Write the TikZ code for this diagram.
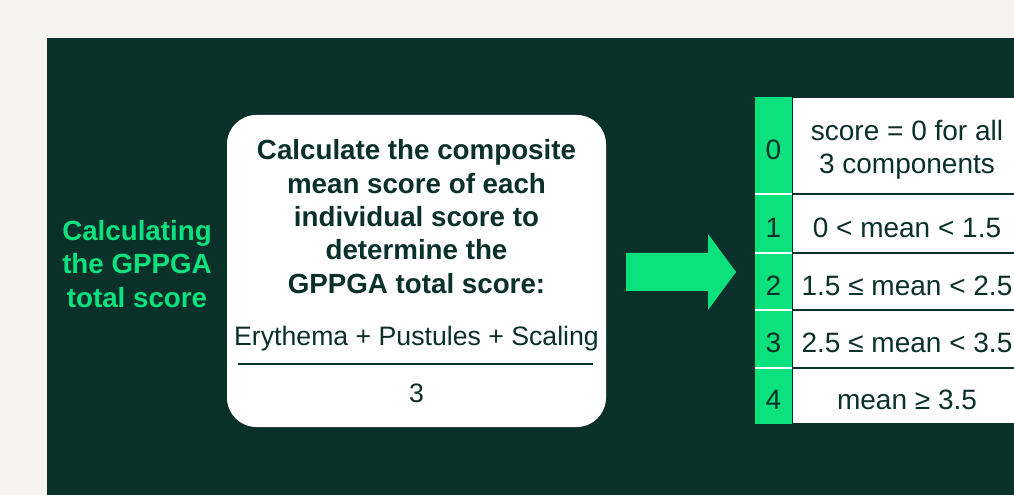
\documentclass[tikz,border=0pt]{standalone}
\usepackage{fontspec}
\setmainfont{Liberation Sans}
\usetikzlibrary{positioning}
\definecolor{panelgreen}{HTML}{0A302A}
\definecolor{brightgreen}{HTML}{0BE27D}
\definecolor{pagegrey}{HTML}{F5F4F2}

\begin{document}
\begin{tikzpicture}[
    x=0.75pt,
    y=-0.75pt,
    plaintext/.style={font=\fontsize{20}{24.5}\selectfont, text=panelgreen},
    tabletext/.style={font=\fontsize{21}{24.5}\selectfont, text=panelgreen, align=center},
    boldtext/.style={font=\fontsize{20.8}{25}\selectfont\bfseries, align=center},
    scorecell/.style={fill=brightgreen, inner sep=0pt, minimum width=27.75pt},
    rangecell/.style={fill=white, draw=panelgreen, line width=1.5pt,
                      inner sep=0pt, minimum width=172.5pt},
    calcbox/.style={fill=white, rounded corners=22pt, minimum width=284.25pt, minimum height=234pt},
  ]

  % === Page and panel ===
  \clip (0,0) rectangle (1014,495);
  \fill[pagegrey] (0,0) rectangle (1014,495);
  \fill[panelgreen] (47,38) rectangle (1014,495);

  % === Title on the left ===
  \node[boldtext, text=brightgreen] (title) at (137,264) {Calculating\\the GPPGA\\total score};

  % === Calculation box ===
  \node[calcbox] (calc) at (416.5,271) {};
  \node[boldtext, text=panelgreen] (steps) at (416.5,216.5)
    {Calculate the composite\\mean score of each\\individual score to\\determine the\\GPPGA total score:};
  \node[plaintext] (numer) at (416.5,339) {Erythema + Pustules + Scaling};
  \draw[panelgreen, line width=1.9pt] (238,364) -- (593,364);
  \node[plaintext] (denom) at (416.5,393) {3};

  % === Block arrow ===
  \fill[brightgreen] (626,253) -- (708,253) -- (708,234) -- (736,272)
    -- (708,310) -- (708,291) -- (626,291) -- cycle;

  % === Score table ===
  \foreach \i/\yc/\h/\txt in {0/145.5/72.75pt/{score = 0 for all\\3 components},
                              1/223.5/44.25pt/{0 < mean < 1.5},
                              2/281.5/42.75pt/{1.5 ≤ mean < 2.5},
                              3/339/43.5pt/{2.5 ≤ mean < 3.5},
                              4/396/42pt/{mean ≥ 3.5}} {
    \node[rangecell, minimum height=\h] (c\i) at (907,\yc) {};
    \node[scorecell, minimum height=\h] (g\i) at (773.5,\yc) {};
    \node[tabletext] (t\i) at ([yshift=-3pt]c\i.center) {\txt};
    \node[tabletext] (n\i) at ([yshift=-3pt]g\i.center) {\i};
  }
  \foreach \i in {0,...,3} {
    \draw[white, line width=1.8pt] (g\i.south west) -- (g\i.south east);
  }

\end{tikzpicture}
\end{document}
